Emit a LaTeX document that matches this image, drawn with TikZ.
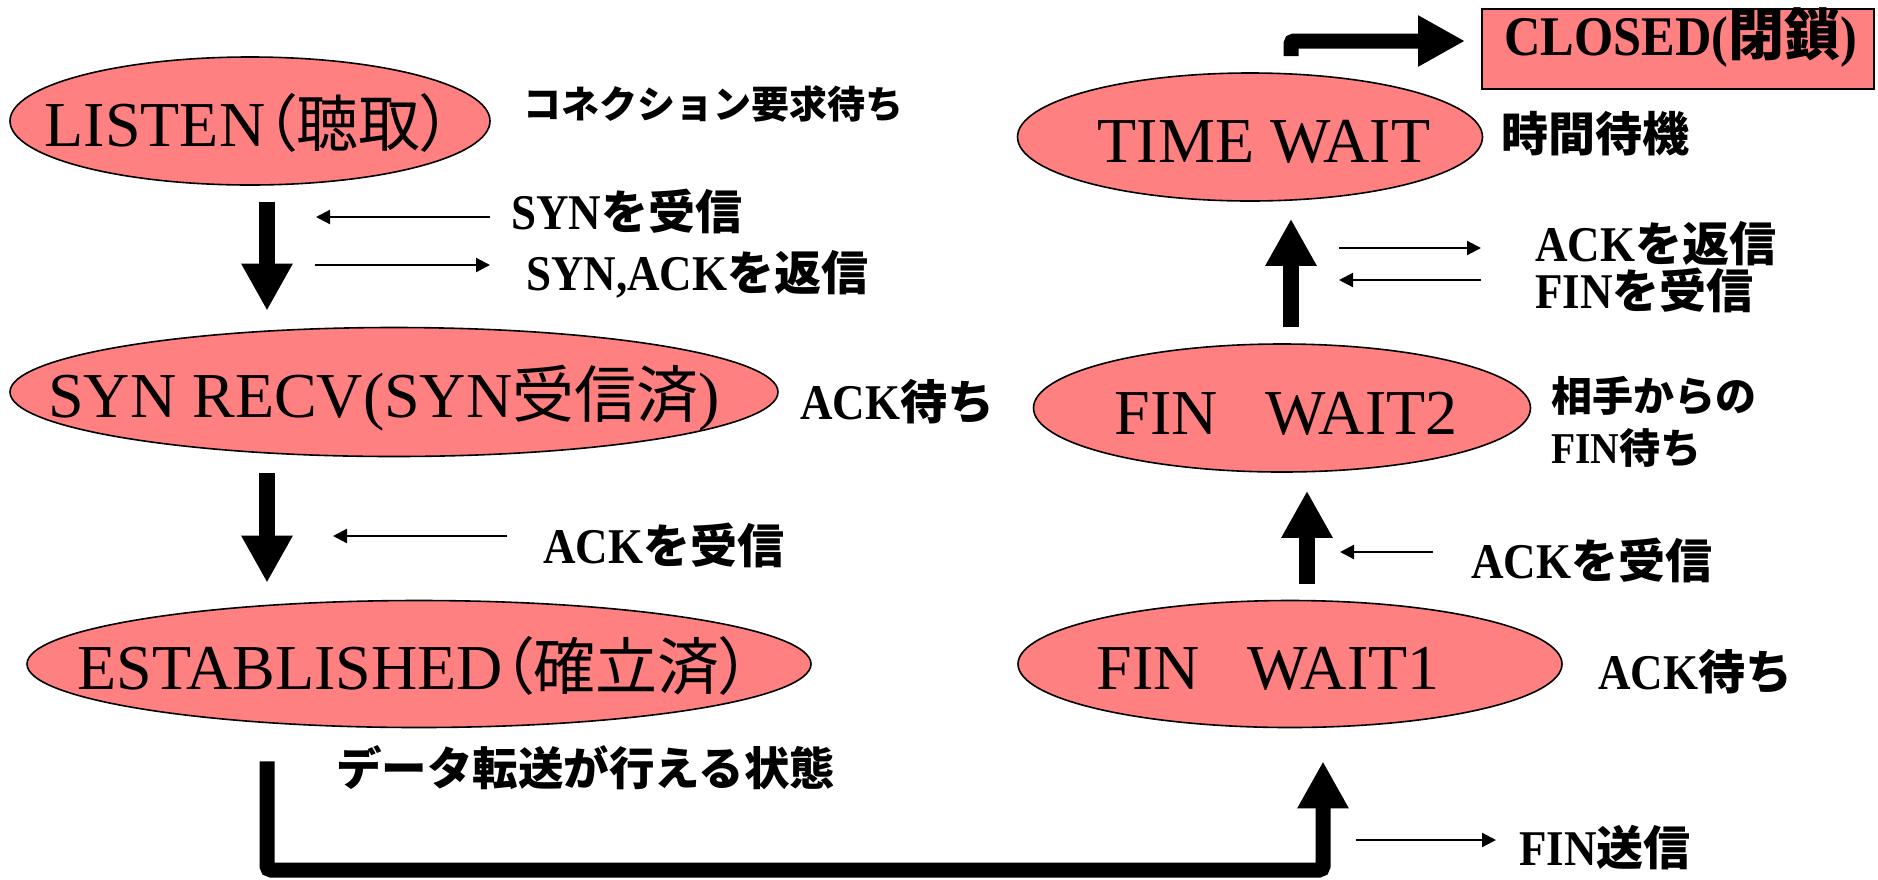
\documentclass[tikz,border=0pt]{standalone}
\usepackage{fontspec}
\setmainfont{Liberation Serif}
\newfontfamily\blat{Liberation Serif}[FakeStretch=0.9]
\newfontfamily\jp{Noto Sans CJK JP}[RawFeature=+palt]
\newfontfamily\jpb{Noto Sans CJK JP Bold}
\usetikzlibrary{shapes.geometric,arrows.meta}
\definecolor{salmonfill}{RGB}{255,128,128}
\newcommand{\ej}[1]{{\jp\fontsize{62}{70}\selectfont #1}}
\newcommand{\lj}[1]{{\jpb\fontsize{47}{56}\selectfont #1}}
\begin{document}
\begin{tikzpicture}[x=1pt,y=-1pt,
  stateE/.style={ellipse, draw=black, line width=1.6pt, fill=salmonfill, inner sep=0pt},
  etext/.style={font=\fontsize{64}{70}\selectfont, anchor=base, inner sep=0pt},
  lab/.style={font=\blat\bfseries\fontsize{50}{56}\selectfont, anchor=west, inner sep=0pt},
  bigarrow/.style={line width=16pt, -{Triangle[length=47pt,width=48pt]}},
  sarrow/.style={line width=2.2pt, -{Triangle[length=14pt,width=14pt]}}]
\useasboundingbox (0,0) rectangle (1878,879);

% states
\node[stateE, minimum width=480pt, minimum height=128pt] (listen) at (250,121) {};
\node[etext] (listenT) at ([xshift=-2pt,yshift=-25pt]listen.center) {LISTEN\ej{（聴取）}};
\node[stateE, minimum width=768pt, minimum height=129pt] (synrecv) at (394,392) {};
\node[etext] (synrecvT) at ([xshift=-10pt,yshift=-25pt]synrecv.center) {SYN RECV(SYN\ej{受信済})};
\node[stateE, minimum width=784pt, minimum height=127pt] (established) at (419,664) {};
\node[etext] (establishedT) at ([xshift=-5pt,yshift=-25pt]established.center) {ESTABLISHED\ej{（確立済）}};
\node[stateE, minimum width=544pt, minimum height=127pt] (finwait1) at (1290,664) {};
\node[etext] (finwait1T) at ([xshift=-22pt,yshift=-25pt]finwait1.center) {FIN\ \ \ WAIT1};
\node[stateE, minimum width=497pt, minimum height=128pt] (finwait2) at (1282,408) {};
\node[etext] (finwait2T) at ([xshift=4pt,yshift=-26pt]finwait2.center) {FIN\ \ \ WAIT2};
\node[stateE, minimum width=465pt, minimum height=128pt] (timewait) at (1250,137) {};
\node[etext] (timewaitT) at ([xshift=14pt,yshift=-25pt]timewait.center) {TIME WAIT};
\node[draw=black, line width=2pt, fill=salmonfill, minimum width=392pt, minimum height=80pt, inner sep=0pt] (closed) at (1678,48.5) {};
\node[font=\blat\bfseries\fontsize{56}{60}\selectfont, anchor=base, inner sep=0pt] (closedT) at (1681,55)
  {CLOSED({\jpb\fontsize{56}{60}\selectfont 閉鎖})};

% labels
\node[lab] (lconn) at (523,104) {\jpb\fontsize{38}{44}\selectfont コネクション要求待ち};
\node[lab] (lsynr) at (511,211) {SYN\lj{を受信}};
\node[lab] (lsyna) at (526,274) {SYN,ACK\lj{を返信}};
\node[lab] (lackw1) at (800,402) {ACK\lj{待ち}};
\node[lab] (lackr1) at (543,545) {ACK\lj{を受信}};
\node[lab] (ldata) at (336,768) {\jpb\fontsize{45.5}{52}\selectfont データ転送が行える状態};
\node[lab] (lfins) at (1519,848) {FIN\lj{送信}};
\node[lab] (lackw2) at (1598,672) {ACK\lj{待ち}};
\node[lab] (lackr2) at (1471,560) {ACK\lj{を受信}};
\node[lab, align=left, font=\blat\bfseries\fontsize{44}{52}\selectfont] (lpeer) at (1551,422)
  {{\jpb\fontsize{41}{52}\selectfont 相手からの}\\FIN{\jpb\fontsize{41}{52}\selectfont 待ち}};
\node[lab] (lacks) at (1535,244) {ACK\lj{を返信}};
\node[lab] (lfinr) at (1535,290) {FIN\lj{を受信}};
\node[lab] (ltime) at (1501,134) {\lj{時間待機}};

% thick transitions
\coordinate (d1) at ([xshift=17pt]listen.south);
\draw[bigarrow, shorten <=16pt, shorten >=16pt] (d1) -- (d1 |- synrecv.north);
\coordinate (d2) at ([xshift=-127pt]synrecv.south);
\draw[bigarrow, shorten <=16pt, shorten >=17pt] (d2) -- (d2 |- established.north);
\coordinate (u1) at ([xshift=17pt]finwait1.north);
\draw[bigarrow, shorten <=16pt, shorten >=18pt] (u1) -- (u1 |- finwait2.south);
\coordinate (u2) at ([xshift=9pt]finwait2.north);
\draw[bigarrow, shorten <=16pt, shorten >=17pt] (u2) -- (u2 |- timewait.south);
\coordinate (b0) at ([xshift=41pt,yshift=16pt]timewait.north);
\coordinate (b1) at ([yshift=7.5pt]closed.west);
\draw[bigarrow, line width=15pt, rounded corners=3pt, shorten >=16pt] (b0) |- (b1);
\coordinate (e0) at ([xshift=-152pt,yshift=-33pt]established.south);
\coordinate (f0) at ([xshift=33pt,yshift=-33pt]finwait1.south);
\coordinate (lb) at (0,870);
\draw[bigarrow, line width=15pt, rounded corners=4pt] (e0) |- (lb -| f0) -- (f0);

% thin message arrows
\coordinate (s1a) at (490,217); \coordinate (s1b) at (316,217);
\draw[sarrow] (s1a) -- (s1b);
\coordinate (s2a) at (315,265); \coordinate (s2b) at (490,265);
\draw[sarrow] (s2a) -- (s2b);
\coordinate (s3a) at (507,536); \coordinate (s3b) at (333,536);
\draw[sarrow] (s3a) -- (s3b);
\coordinate (s4a) at (1356,840); \coordinate (s4b) at (1496,840);
\draw[sarrow] (s4a) -- (s4b);
\coordinate (s5a) at (1433,552); \coordinate (s5b) at (1340,552);
\draw[sarrow] (s5a) -- (s5b);
\coordinate (s6a) at (1339,248); \coordinate (s6b) at (1481,248);
\draw[sarrow] (s6a) -- (s6b);
\coordinate (s7a) at (1481,280); \coordinate (s7b) at (1339,280);
\draw[sarrow] (s7a) -- (s7b);
\end{tikzpicture}
\end{document}
